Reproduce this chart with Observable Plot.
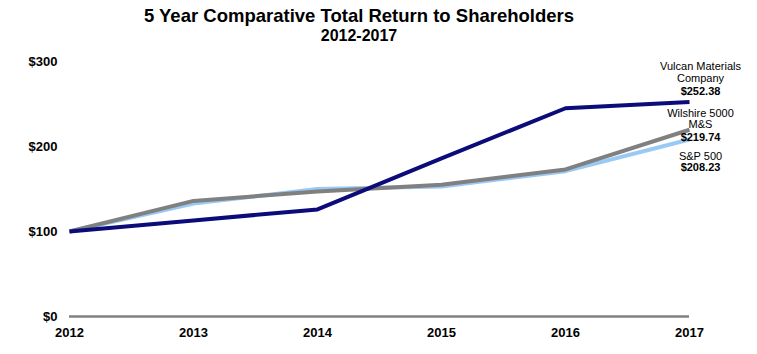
<!DOCTYPE html>
<html>
<head>
<meta charset="utf-8">
<script src="https://cdn.jsdelivr.net/npm/d3@7"></script>
<script src="https://cdn.jsdelivr.net/npm/@observablehq/plot@0.6"></script>
<style>
  body { margin: 0; background: #fff; font-family: "Liberation Sans", Arial, sans-serif; }
  #wrap { width: 757px; }
  #title { width: 718px; text-align: center; font-weight: bold; font-size: 18.5px; line-height: 24px; padding-top: 4px; color: #000; }
  #subtitle { width: 718px; text-align: center; font-weight: bold; font-size: 16px; line-height: 16px; color: #000; }
</style>
</head>
<body>
<div id="wrap">
  <div id="title">5 Year Comparative Total Return to Shareholders</div>
  <div id="subtitle">2012-2017</div>
  <div id="chart"></div>
</div>
<script>
const years = [2012, 2013, 2014, 2015, 2016, 2017];
const vulcan = [100, 113, 126, 186, 245, 252.38];
const wilshire = [100, 136, 147, 155, 173, 219.74];
const sp500 = [100, 133, 150, 153, 171, 208.23];
const yTicks = [0, 100, 200, 300];

const seriesNames = ["S&P 500", "Wilshire 5000 M&S", "Vulcan Materials Company"];
const seriesValues = [sp500, wilshire, vulcan];
const seriesColors = ["#99c9f5", "#808080", "#0b0b7a"];

const rows = [];
seriesNames.forEach((name, i) => {
  years.forEach((yr, j) => rows.push({series: name, year: yr, value: seriesValues[i][j]}));
});

const lastIdx = years.length - 1;
const labelLines = [
  {text: "Vulcan Materials", value: vulcan[lastIdx], dy: -36, bold: false},
  {text: "Company", value: vulcan[lastIdx], dy: -24, bold: false},
  {text: "$" + vulcan[lastIdx].toFixed(2), value: vulcan[lastIdx], dy: -11, bold: true},
  {text: "Wilshire 5000", value: wilshire[lastIdx], dy: -16, bold: false},
  {text: "M&S", value: wilshire[lastIdx], dy: -5, bold: false},
  {text: "$" + wilshire[lastIdx].toFixed(2), value: wilshire[lastIdx], dy: 8, bold: true},
  {text: "S&P 500", value: sp500[lastIdx], dy: 17, bold: false},
  {text: "$" + sp500[lastIdx].toFixed(2), value: sp500[lastIdx], dy: 28, bold: true}
];

const textMarks = labelLines.map(l => Plot.text([l], {
  x: () => years[lastIdx], y: "value", text: "text",
  dx: 11, dy: l.dy, textAnchor: "middle",
  fontSize: 11, fontWeight: l.bold ? "bold" : "normal", fill: "#000"
}));

const chart = Plot.plot({
  width: 757,
  height: 300,
  marginLeft: 69,
  marginRight: 68,
  marginTop: 17,
  marginBottom: 28,
  style: {fontFamily: "'Liberation Sans', Arial, sans-serif", background: "#fff", overflow: "visible"},
  x: {domain: [2012, 2017], ticks: years, tickFormat: d => String(d), tickSize: 0, tickPadding: 11, label: null},
  y: {domain: [0, 300], ticks: yTicks, tickFormat: d => "$" + d, tickSize: 0, tickPadding: 12, label: null},
  color: {domain: seriesNames, range: seriesColors},
  marks: [
    Plot.ruleY([0], {stroke: "#808080", strokeWidth: 2.5}),
    Plot.axisX({ticks: years, tickFormat: d => String(d), tickSize: 0, tickPadding: 11, fontSize: 13, fontWeight: "bold", fill: "#000", label: null}),
    Plot.axisY({ticks: yTicks, tickFormat: d => "$" + d, tickSize: 0, tickPadding: 12, fontSize: 13, fontWeight: "bold", fill: "#000", label: null}),
    Plot.line(rows, {x: "year", y: "value", z: "series", stroke: "series", strokeWidth: 4, strokeLinejoin: "miter", strokeLinecap: "butt"}),
    ...textMarks
  ]
});
document.getElementById("chart").appendChild(chart);
</script>
</body>
</html>
